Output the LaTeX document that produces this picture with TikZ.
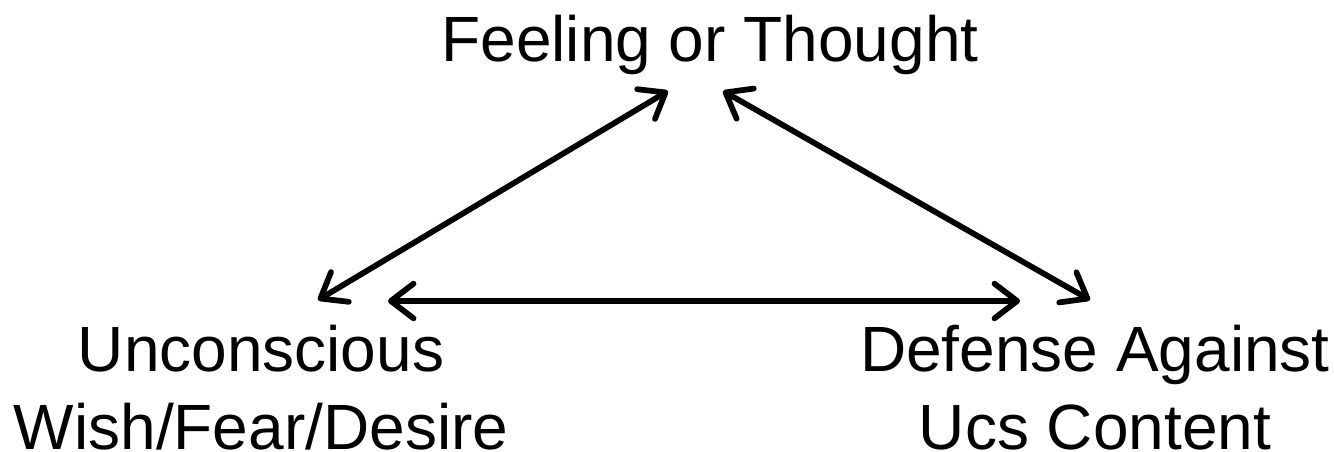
\documentclass[tikz,border=0pt]{standalone}
\usepackage{fontspec}
\setmainfont{Liberation Sans}
\usetikzlibrary{arrows.meta}

\tikzset{
  label text/.style={font=\fontsize{48}{58.5}\selectfont, align=center, inner sep=0pt, anchor=base, text=black},
  barb/.tip={Straight Barb[length=17pt, width=26pt, line cap=round, line join=round]},
  link/.style={draw=black, line width=4.3pt, line cap=round, line join=round, barb-barb}
}

\begin{document}
\begin{tikzpicture}[x=0.75pt, y=-0.75pt]
  % page frame
  \path[use as bounding box, fill=white] (0,0) rectangle (1334,451);

  % the three corners of the triangle (base = baseline of the last line)
  \node[label text] (feel) at (710,61) {Feeling or Thought};
  \node[label text] (wish) at (261,449) {Unconscious\\Wish/Fear/Desire};
  \node[label text] (def) at (1095,449) {Defense Against\\Ucs Content};

  % arrow ends near each label
  \coordinate (feel-l) at (668,91);
  \coordinate (feel-r) at (723,91);
  \coordinate (wish-u) at (318,300);
  \coordinate (wish-r) at (388,301);
  \coordinate (def-u)  at (1090,300);
  \coordinate (def-l)  at (1020,301);

  % two-way links between the corners
  \draw[link] (wish-u) -- (feel-l);
  \draw[link] (feel-r) -- (def-u);
  \draw[link] (wish-r) -- (def-l);
\end{tikzpicture}
\end{document}
